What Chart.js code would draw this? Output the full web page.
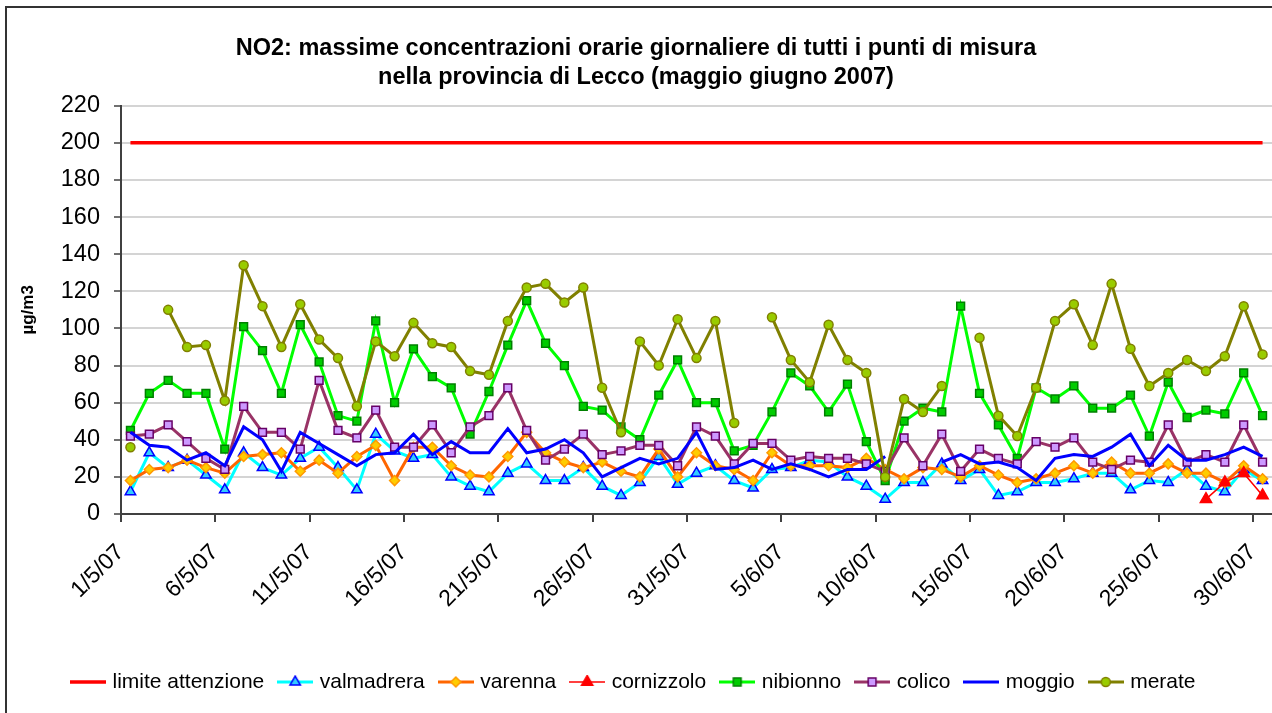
<!DOCTYPE html>
<html>
<head>
<meta charset="utf-8">
<title>NO2 Lecco maggio giugno 2007</title>
<script src="https://cdn.jsdelivr.net/npm/chart.js@4.4.1/dist/chart.umd.min.js"></script>
<style>
  html, body { margin: 0; padding: 0; background: #fff; }
  canvas { display: block; }
</style>
</head>
<body>
<canvas id="grafico" width="1272" height="713"></canvas>
<script>
// giorni dal 1/5/07 al 30/6/07
const giorni = [];
[[5, 31], [6, 30]].forEach(([mese, n]) => {
  for (let d = 1; d <= n; d++) giorni.push(d + '/' + mese + '/07');
});

const LIMITE_ATTENZIONE = 200;

const valmadrera = [12, 33, 25, 29, 21, 13, 33, 25, 21, 30,
  36, 25, 13, 43, 34, 30, 32, 20, 15, 12,
  22, 27, 18, 18, 25, 15, 10, 17, 31, 16,
  22, 26, 18, 14, 24, 25, 29, 28, 20, 15,
  8, 17, 17, 27, 18, 24, 10, 12, 17, 17,
  19, 22, 22, 13, 18, 17, 24, 15, 12, 24, 18];

const varenna = [18, 24, 25, 29, 25, 22, 31, 32, 33, 23,
  29, 22, 31, 37, 18, 36, 36, 26, 21, 20,
  31, 44, 33, 28, 25, 28, 23, 20, 35, 20,
  33, 26, 24, 18, 33, 26, 26, 26, 25, 30,
  24, 19, 25, 24, 20, 26, 21, 17, 19, 22,
  26, 22, 28, 22, 22, 27, 22, 22, 17, 26, 19];

const cornizzolo = [null, null, null, null, null, null, null, null, null, null,
  null, null, null, null, null, null, null, null, null, null,
  null, null, null, null, null, null, null, null, null, null,
  null, null, null, null, null, null, null, null, null, null,
  null, null, null, null, null, null, null, null, null, null,
  null, null, null, null, null, null, null, 8, 17, 22, 10];

const nibionno = [45, 65, 72, 65, 65, 35, 101, 88, 65, 102,
  82, 53, 50, 104, 60, 89, 74, 68, 43, 66,
  91, 115, 92, 80, 58, 56, 47, 40, 64, 83,
  60, 60, 34, 37, 55, 76, 69, 55, 70, 39,
  18, 50, 57, 55, 112, 65, 48, 30, 68, 62,
  69, 57, 57, 64, 42, 71, 52, 56, 54, 76, 53];

const colico = [42, 43, 48, 39, 30, 24, 58, 44, 44, 35,
  72, 45, 41, 56, 36, 36, 48, 33, 47, 53,
  68, 45, 29, 35, 43, 32, 34, 37, 37, 26,
  47, 42, 27, 38, 38, 29, 31, 30, 30, 27,
  23, 41, 26, 43, 23, 35, 30, 27, 39, 36,
  41, 28, 24, 29, 28, 48, 28, 32, 28, 48, 28];

const moggio = [44, 37, 36, 29, 33, 26, 47, 40, 23, 44,
  38, 32, 26, 32, 33, 43, 32, 39, 33, 33,
  46, 33, 35, 40, 33, 20, 25, 30, 27, 30,
  44, 24, 25, 29, 24, 27, 24, 20, 24, 24,
  31, null, null, 28, 32, 27, 28, 25, 18, 30,
  32, 31, 36, 43, 26, 37, 29, 29, 32, 36, 31];

const merate = [36, null, 110, 90, 91, 61, 134, 112, 90, 113,
  94, 84, 58, 93, 85, 103, 92, 90, 77, 75,
  104, 122, 124, 114, 122, 68, 44, 93, 80, 105,
  84, 104, 49, null, 106, 83, 71, 102, 83, 76,
  20, 62, 55, 69, null, 95, 53, 42, 68, 104,
  113, 91, 124, 89, 69, 76, 83, 77, 85, 112, 86];

const limite = giorni.map(() => LIMITE_ATTENZIONE);

const titolo = [
  'NO2: massime concentrazioni orarie giornaliere di tutti i punti di misura',
  'nella provincia di Lecco (maggio giugno 2007)'
];

const FONT = "'Liberation Sans', Arial, sans-serif";

// stile comune di una serie
function serie(label, data, linea, spessore, punto, raggio, fill, bordo) {
  return {
    label, data,
    borderColor: linea,
    backgroundColor: linea,
    borderWidth: spessore,
    pointStyle: punto || 'circle',
    pointRadius: punto ? raggio : 0,
    pointHoverRadius: punto ? raggio : 0,
    pointBackgroundColor: fill,
    pointBorderColor: bordo,
    pointBorderWidth: 1.5,
    tension: 0,
    spanGaps: false
  };
}

const datasets = [
  serie('limite attenzione', limite, '#FF0000', 3.5, null),
  serie('valmadrera', valmadrera, '#00FFFF', 3, 'triangle', 6, '#33CCFF', '#0000FF'),
  serie('varenna', varenna, '#FF6600', 3, 'rectRot', 5, '#FFCC00', '#FF9900'),
  serie('cornizzolo', cornizzolo, '#FF0000', 1.5, 'triangle', 6.5, '#FF0000', '#FF0000'),
  serie('nibionno', nibionno, '#00FF00', 3, 'rect', 5.5, '#00CC00', '#008000'),
  serie('colico', colico, '#993366', 3, 'rect', 5.5, '#CC99FF', '#660066'),
  serie('moggio', moggio, '#0000FF', 3, null),
  serie('merate', merate, '#808000', 3, 'circle', 4.5, '#99CC00', '#808000')
];
// l'ultima serie va disegnata sopra le altre
datasets.forEach((ds, i) => { ds.order = datasets.length - i; });

// icone della legenda: tratto di linea con il simbolo al centro
function iconaLegenda(ds) {
  const c = document.createElement('canvas');
  c.width = 36; c.height = 14;
  const g = c.getContext('2d');
  g.strokeStyle = ds.borderColor;
  g.lineWidth = ds.borderWidth;
  g.beginPath(); g.moveTo(0, 7); g.lineTo(36, 7); g.stroke();
  if (ds.pointRadius > 0) {
    g.fillStyle = ds.pointBackgroundColor;
    g.strokeStyle = ds.pointBorderColor;
    g.lineWidth = ds.pointBorderWidth;
    Chart.helpers.drawPoint(g, {
      pointStyle: ds.pointStyle, radius: ds.pointRadius,
      rotation: 0, borderWidth: ds.pointBorderWidth
    }, 18, 7);
  }
  return c;
}
const icone = datasets.map(iconaLegenda);

// cornice del grafico e posizione della legenda
const cornice = {
  id: 'cornice',
  afterLayout(chart) {
    const lg = chart.legend;
    const dx = 57 - lg.left;
    lg.left += dx; lg.right += dx;
  },
  beforeDraw(chart) {
    const ctx = chart.ctx;
    ctx.save();
    ctx.fillStyle = '#fff';
    ctx.fillRect(0, 0, chart.width, chart.height);
    ctx.strokeStyle = '#333';
    ctx.lineWidth = 2;
    ctx.beginPath();
    ctx.moveTo(6, chart.height + 5);
    ctx.lineTo(6, 7);
    ctx.lineTo(chart.width + 5, 7);
    ctx.stroke();
    ctx.restore();
  }
};

new Chart(document.getElementById('grafico').getContext('2d'), {
  type: 'line',
  data: { labels: giorni, datasets },
  plugins: [cornice],
  options: {
    responsive: false,
    animation: false,
    devicePixelRatio: 1,
    layout: { autoPadding: false, padding: { left: 0, right: 0, top: 0, bottom: 10.5 } },
    plugins: {
      tooltip: { enabled: false },
      title: {
        display: true,
        text: titolo,
        color: '#000',
        font: { family: FONT, size: 23.5, weight: 'bold', lineHeight: '29px' },
        padding: { top: 34.5, bottom: 13.2 }
      },
      legend: {
        position: 'bottom',
        align: 'start',
        labels: {
          usePointStyle: true,
          pointStyleWidth: 28,
          padding: 17,
          color: '#000',
          font: { family: FONT, size: 21 },
          generateLabels(chart) {
            const items = Chart.defaults.plugins.legend.labels.generateLabels(chart);
            items.sort((a, b) => a.datasetIndex - b.datasetIndex);
            items.forEach(it => { it.pointStyle = icone[it.datasetIndex]; });
            return items;
          }
        }
      }
    },
    scales: {
      x: {
        type: 'category',
        offset: true,
        afterFit(scale) {
          scale.height = 140.5;
          scale.paddingLeft = 0;
          scale.paddingRight = 0;
        },
        border: { color: '#404040', width: 2 },
        grid: {
          offset: true,
          drawOnChartArea: false,
          drawTicks: true,
          tickLength: 8,
          lineWidth: 2,
          tickColor: (c) => (c.index % 5 === 0 ? '#404040' : 'rgba(0,0,0,0)')
        },
        ticks: {
          autoSkip: false,
          minRotation: 45,
          maxRotation: 45,
          labelOffset: -10,
          padding: 17,
          color: '#000',
          font: { family: FONT, size: 23 },
          callback: function (value, index) {
            return index % 5 === 0 ? this.getLabelForValue(value) : '';
          }
        }
      },
      y: {
        min: 0,
        max: 220,
        afterFit(scale) {
          scale.width = 121;
          scale.paddingTop = 0;
          scale.paddingBottom = 0;
        },
        border: { color: '#404040', width: 2 },
        grid: {
          color: '#d4d4d4',
          lineWidth: 2,
          tickColor: '#404040',
          tickWidth: 1.5,
          tickLength: 7
        },
        ticks: {
          stepSize: 20,
          padding: 14,
          color: '#000',
          font: { family: FONT, size: 23.5 }
        },
        title: {
          display: true,
          text: 'µg/m3',
          color: '#000',
          font: { family: FONT, size: 17, weight: 'bold' },
          padding: { top: 18.5, bottom: 0 }
        }
      }
    }
  }
});
</script>
</body>
</html>
